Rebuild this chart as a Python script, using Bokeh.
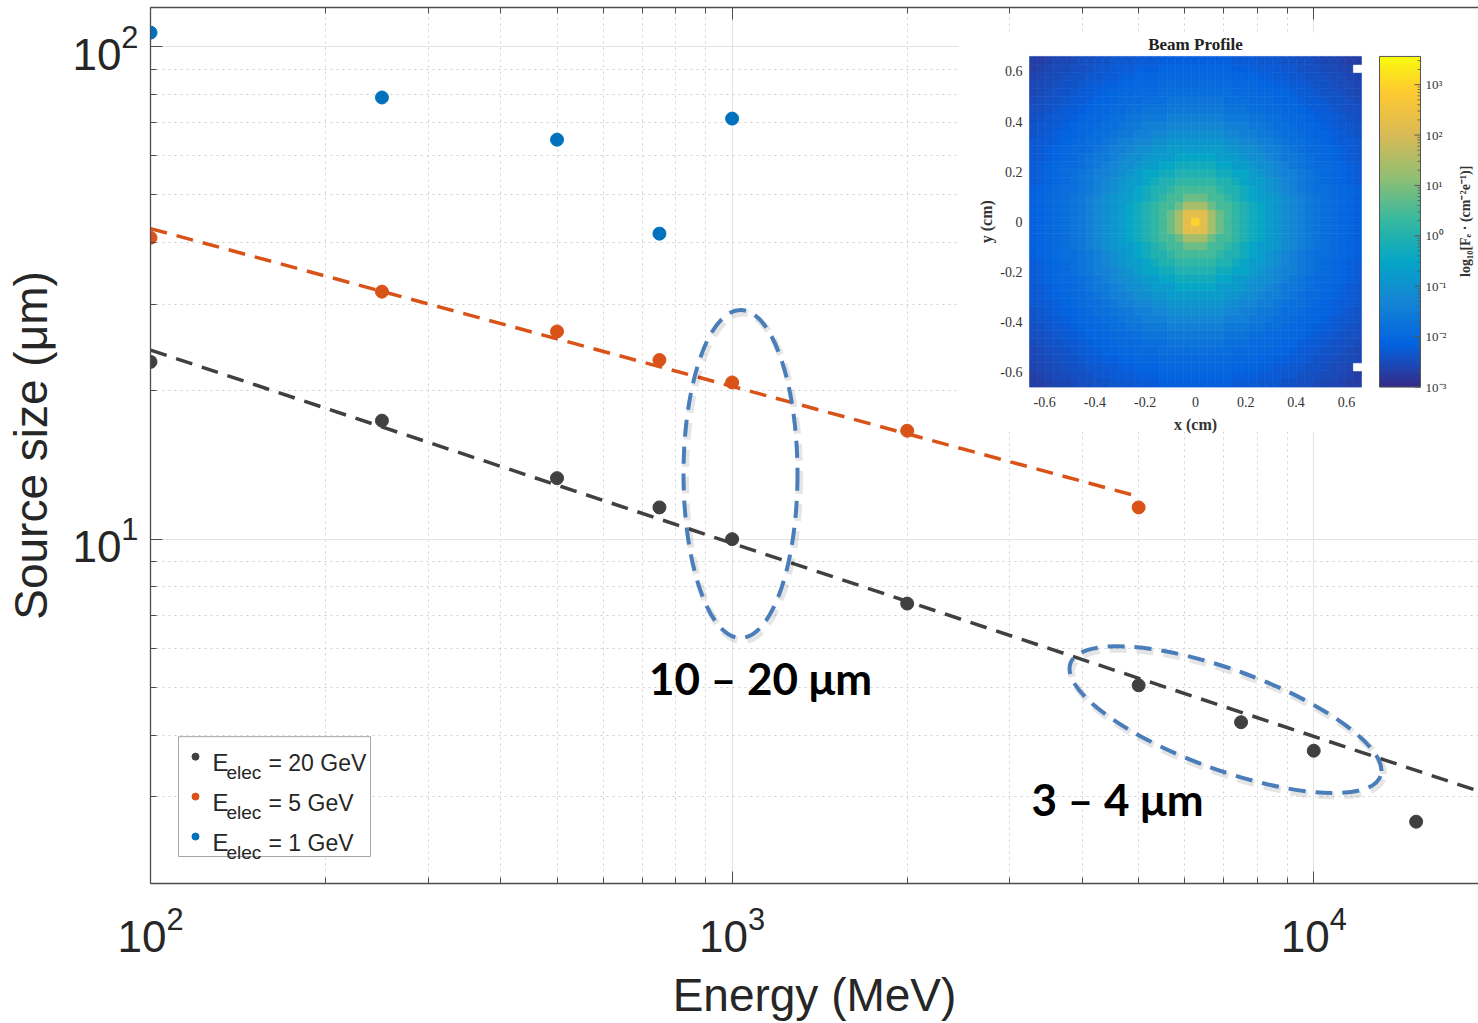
import numpy as np
from bokeh.plotting import figure
from bokeh.models import (Range1d, LinearScale, LogAxis, FixedTicker, LinearColorMapper,
                          ColumnDataSource)
from bokeh.core.properties import value
from bokeh.embed import file_html
from bokeh.resources import INLINE
from bokeh.transform import transform

# ---------------- source size vs photon energy ----------------
energy_20gev = [100, 250, 500, 750, 1000, 2000, 5000, 7500, 10000, 15000]
size_20gev = [22.9, 17.4, 13.3, 11.6, 10.0, 7.4, 5.05, 4.25, 3.72, 2.67]
energy_5gev = [100, 250, 500, 750, 1000, 2000, 5000]
size_5gev = [40.9, 31.8, 26.4, 23.1, 20.8, 16.6, 11.6]
energy_1gev = [100, 250, 500, 750, 1000]
size_1gev = [106.7, 78.8, 64.7, 41.7, 71.4]

# power-law fits
fit_20gev_energy = [100, 19200]
fit_20gev_size = [24.2, 3.08]
fit_5gev_energy = [100, 5000]
fit_5gev_size = [42.7, 12.2]

x_major = [100, 1000, 10000]
y_major = [10, 100]
legend_labels = ["= 20 GeV", "= 5 GeV", "= 1 GeV"]
callouts = ["10 – 20 μm", "3 – 4 μm"]

# ---------------- beam profile (log10 fluence by ring, in bins) ----------------
profile_bins = 41
profile_half_width = 0.66
profile_ring_log10 = [2.95, 2.25, 1.4, 0.8, 0.45, 0.2, -0.05, -0.3, -0.5, -0.75,
                      -0.9, -1.1, -1.3, -1.45, -1.6, -1.72, -1.85, -1.95, -2.05, -2.12,
                      -2.2, -2.27, -2.33, -2.39, -2.45, -2.52, -2.58, -2.64, -2.7, -2.75]
blank_cells = [(40, 39), (40, 2)]  # (column, row) with no entries
inset_ticks = [-0.6, -0.4, -0.2, 0.0, 0.2, 0.4, 0.6]
inset_tick_labels = ["-0.6", "-0.4", "-0.2", "0", "0.2", "0.4", "0.6"]
cbar_low, cbar_high = -3.0, 3.56
cbar_ticks = [-3, -2, -1, 0, 1, 2, 3]
cbar_tick_labels = ["10⁻³", "10⁻²", "10⁻¹", "10⁰", "10¹", "10²", "10³"]

# parula-like colour map
_anchors = [(0.2081, 0.1663, 0.5292), (0.0117, 0.3875, 0.8820), (0.0793, 0.5200, 0.8312),
            (0.0228, 0.6535, 0.7768), (0.2178, 0.7250, 0.6193), (0.5709, 0.7485, 0.4494),
            (0.8507, 0.7299, 0.3360), (0.9955, 0.7861, 0.1967), (0.9763, 0.9831, 0.0538)]
_pos = [0, 8 / 63, 16 / 63, 24 / 63, 32 / 63, 40 / 63, 48 / 63, 56 / 63, 1.0]
_t = np.linspace(0, 1, 256)
_rgb = np.array([np.interp(_t, _pos, [a[c] for a in _anchors]) for c in range(3)]).T
parula = ["#%02x%02x%02x" % tuple(int(round(255 * v)) for v in row) for row in _rgb]
mapper = LinearColorMapper(palette=parula, low=cbar_low, high=cbar_high, nan_color="white")

# ---------------- layout (pixels) ----------------
W, H = 1478, 1023
FL, FR, FT, FB = 150, 1478, 7, 884
IX0, IX1, IY0, IY1 = 1029, 1361, 56, 387        # heat-map box
CB0, CB1 = 1379, 1420                           # colour-bar box

p = figure(width=W, height=H, x_axis_type="log", y_axis_type="log",
           x_range=Range1d(100, 19200), y_range=Range1d(2.0, 120),
           output_backend="svg", toolbar_location=None,
           min_border_left=FL, min_border_right=0, min_border_top=FT,
           min_border_bottom=H - FB)
p.outline_line_color = None
p.background_fill_color = "white"
p.border_fill_color = "white"

su = 2 * profile_half_width / (IX1 - IX0)
sv = 2 * profile_half_width / (IY1 - IY0)
sc = (cbar_high - cbar_low) / (IY1 - IY0)
p.extra_x_ranges = {
    "px": Range1d(FL, FR),
    "inset": Range1d(-profile_half_width - (IX0 - FL) * su, profile_half_width + (FR - IX1) * su),
}
p.extra_y_ranges = {
    "px": Range1d(FB, FT),
    "inset": Range1d(-profile_half_width - (FB - IY1) * sv, profile_half_width + (IY0 - FT) * sv),
    "cbar": Range1d(cbar_low - (FB - IY1) * sc, cbar_high + (IY0 - FT) * sc),
}
p.extra_x_scales = {"px": LinearScale(), "inset": LinearScale()}
p.extra_y_scales = {"px": LinearScale(), "inset": LinearScale(), "cbar": LinearScale()}


def decade_ticker(majors, extra):
    minors = [m * k for m in majors + extra for k in range(2, 10)]
    return FixedTicker(ticks=majors, minor_ticks=minors)


x_ticker = decade_ticker(x_major, [])
y_ticker = decade_ticker(y_major, [1])

# axes
AX = "#4d4d4d"
bottom_axis = p.below[0]
left_axis = p.left[0]
top_axis = LogAxis(major_label_text_font_size="1px", major_label_text_alpha=0,
                   major_label_standoff=0)
p.add_layout(top_axis, "above")
bottom_axis.ticker = x_ticker
top_axis.ticker = x_ticker
left_axis.ticker = y_ticker
for ax in (bottom_axis, left_axis, top_axis):
    ax.axis_line_color = AX
    ax.axis_line_width = 1.3
    ax.major_tick_line_color = AX
    ax.minor_tick_line_color = AX
    ax.major_tick_in, ax.major_tick_out = 12, 0
    ax.minor_tick_in, ax.minor_tick_out = 6, 0
for ax in (bottom_axis, left_axis):
    ax.major_label_text_font = "Liberation Sans"
    ax.major_label_text_font_size = "44px"
    ax.major_label_text_color = "#262626"
    ax.axis_label_text_font = "Liberation Sans"
    ax.axis_label_text_font_size = "46px"
    ax.axis_label_text_font_style = "normal"
    ax.axis_label_text_color = "#262626"
bottom_axis.axis_label = "Energy (MeV)"
left_axis.axis_label = "Source size (μm)"
bottom_axis.major_label_standoff = 22
left_axis.major_label_standoff = 12
bottom_axis.axis_label_standoff = 14
left_axis.axis_label_standoff = 12

p.xgrid.ticker = x_ticker
p.ygrid.ticker = y_ticker
p.grid.grid_line_color = "#e3e3e3"
p.grid.grid_line_width = 1
p.grid.minor_grid_line_color = "#cfcfcf"
p.grid.minor_grid_line_dash = "dotted"

# white panel behind the inset
p.quad(left=958, right=FR, top=32, bottom=432, x_range_name="px", y_range_name="px",
       fill_color="white", line_color=None)

# ---------------- main series ----------------
GRAY, ORANGE, BLUE = "#404040", "#D95319", "#0072BD"
p.line(fit_5gev_energy, fit_5gev_size, line_color=ORANGE, line_width=3.5, line_dash="17 10")
p.line(fit_20gev_energy, fit_20gev_size, line_color=GRAY, line_width=3.5, line_dash="17 10")
p.scatter(energy_20gev, size_20gev, size=13, fill_color=GRAY, line_color=GRAY)
p.scatter(energy_5gev, size_5gev, size=13, fill_color=ORANGE, line_color=ORANGE)
p.scatter(energy_1gev, size_1gev, size=13, fill_color=BLUE, line_color=BLUE)

# ---------------- call-out ellipses ----------------
ELL = "#4A7EBB"
ell_x, ell_y, ell_w, ell_h, ell_a = [740, 1225], [474, 720], [114, 330], [328, 100], [0.0, -0.349]
p.ellipse(x=[v + 2 for v in ell_x], y=[v + 3 for v in ell_y], width=ell_w, height=ell_h,
          angle=ell_a, x_range_name="px", y_range_name="px", fill_color=None,
          line_color="black", line_alpha=0.10, line_width=7, line_dash="17 10",
          width_units="screen", height_units="screen")
p.ellipse(x=ell_x, y=ell_y, width=ell_w, height=ell_h, angle=ell_a,
          x_range_name="px", y_range_name="px", fill_color=None,
          line_color=ELL, line_width=4, line_dash="17 10",
          width_units="screen", height_units="screen")
p.text(x=[760, 1117], y=[678, 799], text=callouts, x_range_name="px", y_range_name="px",
       text_font=value("Lato"), text_font_style="bold", text_font_size="44px",
       text_color="black", text_align="center", text_baseline="middle")

# ---------------- legend ----------------
p.quad(left=178, right=370, top=737, bottom=857, x_range_name="px", y_range_name="px",
       fill_color="white", line_color="#a6a6a6", line_width=1)
rows = [763, 803, 843]
p.scatter(x=[195] * 3, y=[r - 6 for r in rows], size=7, color=[GRAY, ORANGE, BLUE],
          x_range_name="px", y_range_name="px")
p.text(x=[212] * 3, y=rows, text=["E"] * 3, x_range_name="px", y_range_name="px",
       text_font=value("Liberation Sans"), text_font_size="24px", text_color="#262626",
       text_baseline="alphabetic")
p.text(x=[226] * 3, y=[r + 10 for r in rows], text=["elec"] * 3, x_range_name="px",
       y_range_name="px", text_font=value("Liberation Sans"), text_font_size="19px",
       text_color="#262626", text_baseline="alphabetic")
p.text(x=[268] * 3, y=rows, text=legend_labels, x_range_name="px", y_range_name="px",
       text_font=value("Liberation Sans"), text_font_size="23px", text_color="#262626",
       text_baseline="alphabetic")

# ---------------- inset: beam profile ----------------
n = profile_bins
wbin = 2 * profile_half_width / n
centers = -profile_half_width + wbin * (np.arange(n) + 0.5)
col, row = np.meshgrid(np.arange(n), np.arange(n))
ring = np.rint(np.hypot(col - n // 2, row - n // 2)).astype(int)
fluence = np.asarray(profile_ring_log10)[ring]
for c, r in blank_cells:
    fluence[r, c] = np.nan
cells = ColumnDataSource(dict(x=centers[col].ravel(), y=centers[row].ravel(), v=fluence.ravel()))
p.rect("x", "y", width=wbin, height=wbin, source=cells, x_range_name="inset",
       y_range_name="inset", fill_color=transform("v", mapper),
       line_color=transform("v", mapper), line_width=0.6)

# colour bar
cbar_levels = np.linspace(cbar_low, cbar_high, 256).reshape(256, 1)
p.image(image=[cbar_levels], x=CB0, y=cbar_low, dw=CB1 - CB0, dh=cbar_high - cbar_low,
        color_mapper=mapper, x_range_name="px", y_range_name="cbar")
p.quad(left=CB0, right=CB1, bottom=cbar_low, top=cbar_high, x_range_name="px",
       y_range_name="cbar", fill_color=None, line_color="#555555", line_width=1)
minor = [d + np.log10(k) for d in range(-3, 4) for k in range(2, 10)
         if d + np.log10(k) < cbar_high]
p.segment(x0=[CB1] * len(cbar_ticks), x1=[CB1 - 6] * len(cbar_ticks), y0=cbar_ticks,
          y1=cbar_ticks, x_range_name="px", y_range_name="cbar", line_color="#555555")
p.segment(x0=[CB1] * len(minor), x1=[CB1 - 3] * len(minor), y0=minor, y1=minor,
          x_range_name="px", y_range_name="cbar", line_color="#555555", line_width=0.8)
p.text(x=[CB1 + 5] * len(cbar_ticks), y=cbar_ticks, text=cbar_tick_labels,
       x_range_name="px", y_range_name="cbar", text_font=value("Liberation Serif"),
       text_font_size="13px", text_color="#333333", text_baseline="middle")
p.text(x=[1465], y=[221], text=["log₁₀[Fₑ · (cm⁻²e⁻¹)]"], angle=np.pi / 2,
       x_range_name="px", y_range_name="px", text_font=value("Liberation Serif"),
       text_font_size="14px", text_font_style="bold", text_color="#333333",
       text_align="center", text_baseline="middle")

# inset tick labels and titles
p.text(x=[IX0 - 7] * len(inset_ticks), y=inset_ticks, text=inset_tick_labels,
       x_range_name="px", y_range_name="inset", text_font=value("Liberation Serif"),
       text_font_size="14px", text_color="#333333", text_align="right", text_baseline="middle")
p.text(x=inset_ticks, y=[402] * len(inset_ticks), text=inset_tick_labels,
       x_range_name="inset", y_range_name="px", text_font=value("Liberation Serif"),
       text_font_size="14px", text_color="#333333", text_align="center", text_baseline="middle")
p.text(x=[0.0], y=[424], text=["x (cm)"], x_range_name="inset", y_range_name="px",
       text_font=value("Liberation Serif"), text_font_size="16px", text_font_style="bold",
       text_color="#333333", text_align="center", text_baseline="middle")
p.text(x=[986], y=[0.0], text=["y (cm)"], angle=np.pi / 2, x_range_name="px",
       y_range_name="inset", text_font=value("Liberation Serif"), text_font_size="16px",
       text_font_style="bold", text_color="#333333", text_align="center",
       text_baseline="middle")
p.text(x=[0.0], y=[44], text=["Beam Profile"], x_range_name="inset", y_range_name="px",
       text_font=value("Liberation Serif"), text_font_size="17px", text_font_style="bold",
       text_color="#222222", text_align="center", text_baseline="middle")

open("out.html", "w").write(file_html(p, INLINE))
